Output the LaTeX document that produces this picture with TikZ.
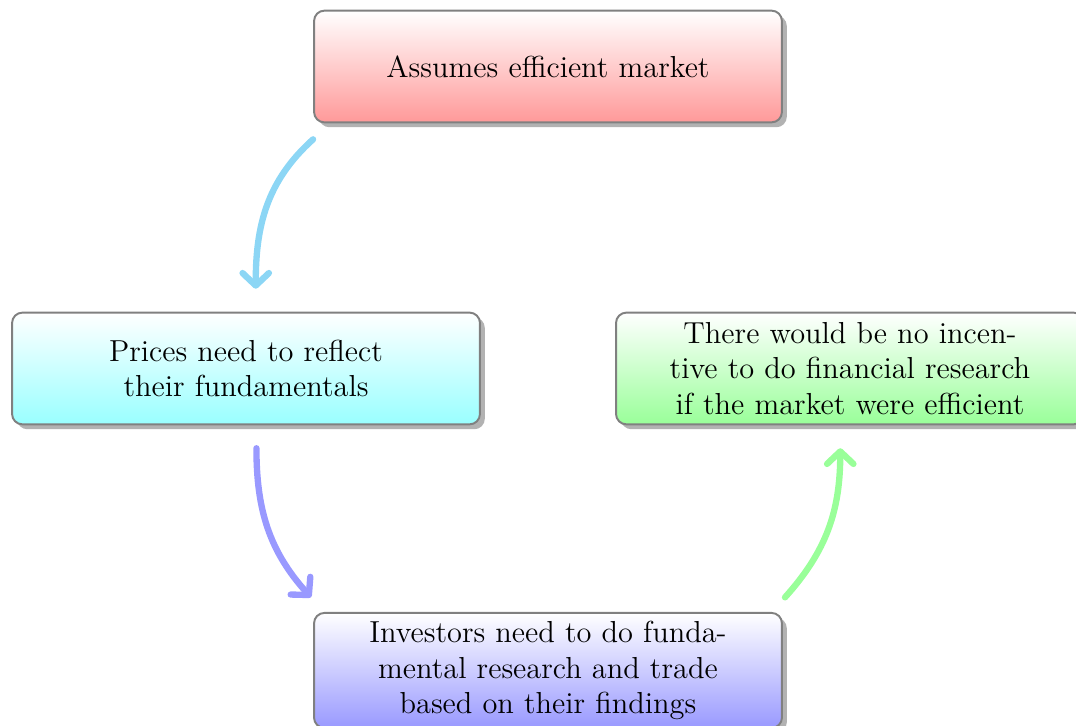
\documentclass[tikz,border=0pt]{standalone}
\usetikzlibrary{shadows,arrows.meta}
\definecolor{skyarrow}{RGB}{140,214,245}
\begin{document}
\begin{tikzpicture}[
	module/.style={draw=gray, thick, rounded corners=1.5mm,
		minimum width=6.74cm, minimum height=1.61cm,
		text width=5.2cm, align=center, font=\fontsize{12.45}{14.6}\selectfont,
		drop shadow={shadow xshift=0.7mm, shadow yshift=-0.7mm, fill=gray!60, opacity=1}},
	cyclearrow/.style={line width=2.6pt, line cap=round,
		-{Straight Barb[round, length=1.8mm, width=3.8mm]}}
]
	\useasboundingbox (-7.894,-5.150) rectangle (7.606,5.308);

	\node [module, top color=white, bottom color=red!40] (market) at (0,4.35) {Assumes efficient market};
	\node [module, top color=white, bottom color=cyan!40] (prices) at (-4.35,0) {Prices need to reflect their fundamentals};
	\node [module, top color=white, bottom color=blue!40] (investors) at (0,-4.35) {Investors need to do fundamental research and trade based on their findings};
	\node [module, top color=white, bottom color=green!40] (incentive) at (4.35,0) {There would be no incentive to do financial research if the market were efficient};

	\draw [cyclearrow, skyarrow] ([yshift=-2.3mm]market.south west) to[out=222, in=90] ([xshift=1.4mm, yshift=3.3mm]prices.north);
	\draw [cyclearrow, blue!40] ([xshift=1.5mm, yshift=-3.3mm]prices.south) to[out=270, in=132] ([xshift=-0.3mm, yshift=2.1mm]investors.north west);
	\draw [cyclearrow, green!40] ([xshift=0.3mm, yshift=2.1mm]investors.north east) to[out=48, in=270] ([xshift=-1.4mm, yshift=-3.3mm]incentive.south);
\end{tikzpicture}
\end{document}
